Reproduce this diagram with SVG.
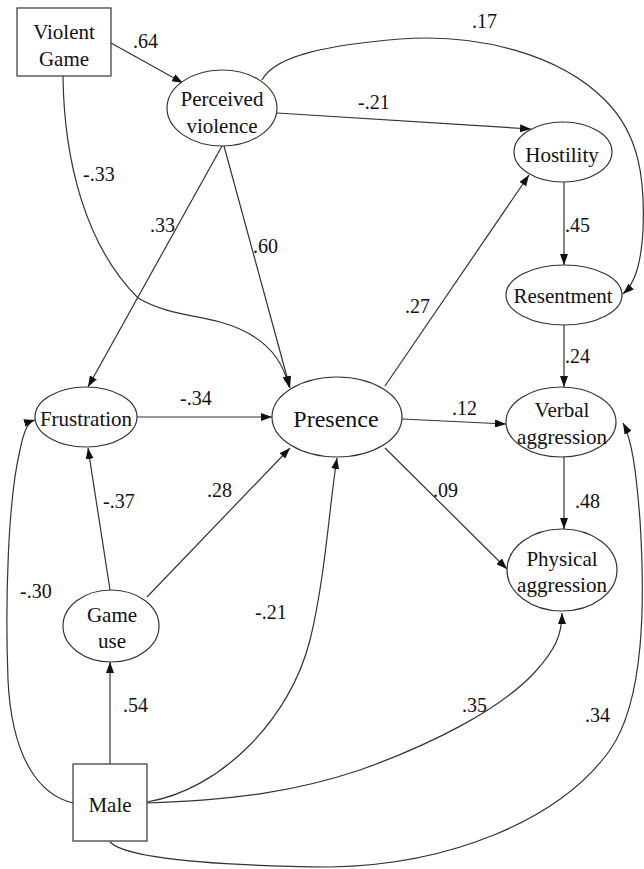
<svg xmlns="http://www.w3.org/2000/svg" width="644" height="869" viewBox="0 0 644 869">
<style>
.nodeShape{fill:#fff;stroke:#333;stroke-width:1.2}
.nodeText{font-size:21px;fill:#111;text-anchor:middle}
.bigText{font-size:24px}
.edgeLabel{font-size:20px;fill:#111}
.edge{fill:none;stroke:#333;stroke-width:1.2;marker-end:url(#ah)}
</style>
<defs>
<marker id="ah" markerUnits="userSpaceOnUse" markerWidth="11" markerHeight="8" refX="11" refY="4" orient="auto">
<path d="M0,0 L11,4 L0,8 z" fill="#111"/>
</marker>
</defs>
<rect width="644" height="869" fill="#fff"/>
<g id="connectors">
<path class="edge" d="M111,43 L183,83"/>
<path class="edge" d="M277,113 L531,129"/>
<path class="edge" d="M222,146 L88,387"/>
<path class="edge" d="M224,146 L290,388"/>
<path class="edge" d="M262,80 C275,55 330,45 400,39 C480,33 560,55 605,100 C640,135 645,180 643,230 C641,265 635,283 623,294"/>
<path class="edge" d="M564,182 L564,265"/>
<path class="edge" d="M564,325 L564,387"/>
<path class="edge" d="M564,457 L564,529"/>
<path class="edge" d="M137,417 L272,417"/>
<path class="edge" d="M385,386 L529,175"/>
<path class="edge" d="M402,419 L506,424"/>
<path class="edge" d="M385,448 L507,569"/>
<path class="edge" d="M63,76 C64,160 85,245 138,298 C165,314 195,315 220,322 C260,333 282,355 289,387"/>
<path class="edge" d="M110,590 L88,448"/>
<path class="edge" d="M147,597 L290,448"/>
<path class="edge" d="M110,764 L110,662"/>
<path class="edge" d="M73,803 C40,795 12,760 8,680 C5,600 8,500 20,450 C24,430 28,422 35,420"/>
<path class="edge" d="M147,802 C220,790 290,720 310,640 C325,580 330,500 337,458"/>
<path class="edge" d="M147,803 C240,800 300,790 360,770 C430,745 500,710 535,672 C555,650 562,635 562,613"/>
<path class="edge" d="M110,842 C130,862 250,866 330,867 C450,865 560,820 610,750 C645,700 645,600 640,520 C636,470 632,440 623,423"/>
</g>
<g id="labels">
<text class="edgeLabel" font-family="Liberation Serif" x="133" y="48">.64</text>
<text class="edgeLabel" font-family="Liberation Serif" x="83" y="181">-.33</text>
<text class="edgeLabel" font-family="Liberation Serif" x="150" y="232">.33</text>
<text class="edgeLabel" font-family="Liberation Serif" x="253" y="253">.60</text>
<text class="edgeLabel" font-family="Liberation Serif" x="472" y="28">.17</text>
<text class="edgeLabel" font-family="Liberation Serif" x="358" y="109">-.21</text>
<text class="edgeLabel" font-family="Liberation Serif" x="565" y="232">.45</text>
<text class="edgeLabel" font-family="Liberation Serif" x="405" y="313">.27</text>
<text class="edgeLabel" font-family="Liberation Serif" x="565" y="363">.24</text>
<text class="edgeLabel" font-family="Liberation Serif" x="452" y="415">.12</text>
<text class="edgeLabel" font-family="Liberation Serif" x="433" y="497">.09</text>
<text class="edgeLabel" font-family="Liberation Serif" x="575" y="508">.48</text>
<text class="edgeLabel" font-family="Liberation Serif" x="180" y="405">-.34</text>
<text class="edgeLabel" font-family="Liberation Serif" x="103" y="508">-.37</text>
<text class="edgeLabel" font-family="Liberation Serif" x="207" y="497">.28</text>
<text class="edgeLabel" font-family="Liberation Serif" x="20" y="598">-.30</text>
<text class="edgeLabel" font-family="Liberation Serif" x="255" y="619">-.21</text>
<text class="edgeLabel" font-family="Liberation Serif" x="123" y="712">.54</text>
<text class="edgeLabel" font-family="Liberation Serif" x="462" y="712">.35</text>
<text class="edgeLabel" font-family="Liberation Serif" x="585" y="722">.34</text>
</g>
<g id="violent-game"><rect class="nodeShape" x="17" y="8" width="94" height="68"/><text class="nodeText" font-family="Liberation Serif" x="64" y="39">Violent</text><text class="nodeText" font-family="Liberation Serif" x="64" y="66">Game</text></g>
<g id="perceived-violence"><ellipse class="nodeShape" cx="222" cy="108" rx="55" ry="38"/><text class="nodeText" font-family="Liberation Serif" x="222" y="106">Perceived</text><text class="nodeText" font-family="Liberation Serif" x="222" y="133">violence</text></g>
<g id="hostility"><ellipse class="nodeShape" cx="563" cy="152" rx="49" ry="30"/><text class="nodeText" font-family="Liberation Serif" x="562" y="162">Hostility</text></g>
<g id="resentment"><ellipse class="nodeShape" cx="564" cy="295" rx="58" ry="30"/><text class="nodeText" font-family="Liberation Serif" x="563" y="303">Resentment</text></g>
<g id="verbal-aggression"><ellipse class="nodeShape" cx="561" cy="422" rx="55" ry="35"/><text class="nodeText" font-family="Liberation Serif" x="562" y="417">Verbal</text><text class="nodeText" font-family="Liberation Serif" x="562" y="444">aggression</text></g>
<g id="physical-aggression"><ellipse class="nodeShape" cx="562" cy="570" rx="55" ry="41"/><text class="nodeText" font-family="Liberation Serif" x="562" y="566">Physical</text><text class="nodeText" font-family="Liberation Serif" x="562" y="592">aggression</text></g>
<g id="presence"><ellipse class="nodeShape" cx="337" cy="417" rx="65" ry="40"/><text class="nodeText bigText" font-family="Liberation Serif" x="336" y="427">Presence</text></g>
<g id="frustration"><ellipse class="nodeShape" cx="86" cy="417" rx="51" ry="30"/><text class="nodeText" font-family="Liberation Serif" x="86" y="426">Frustration</text></g>
<g id="game-use"><ellipse class="nodeShape" cx="111" cy="626" rx="48" ry="36"/><text class="nodeText" font-family="Liberation Serif" x="112" y="622">Game</text><text class="nodeText" font-family="Liberation Serif" x="112" y="648">use</text></g>
<g id="male"><rect class="nodeShape" x="73" y="764" width="74" height="77"/><text class="nodeText" font-family="Liberation Serif" x="110" y="812">Male</text></g>
</svg>
